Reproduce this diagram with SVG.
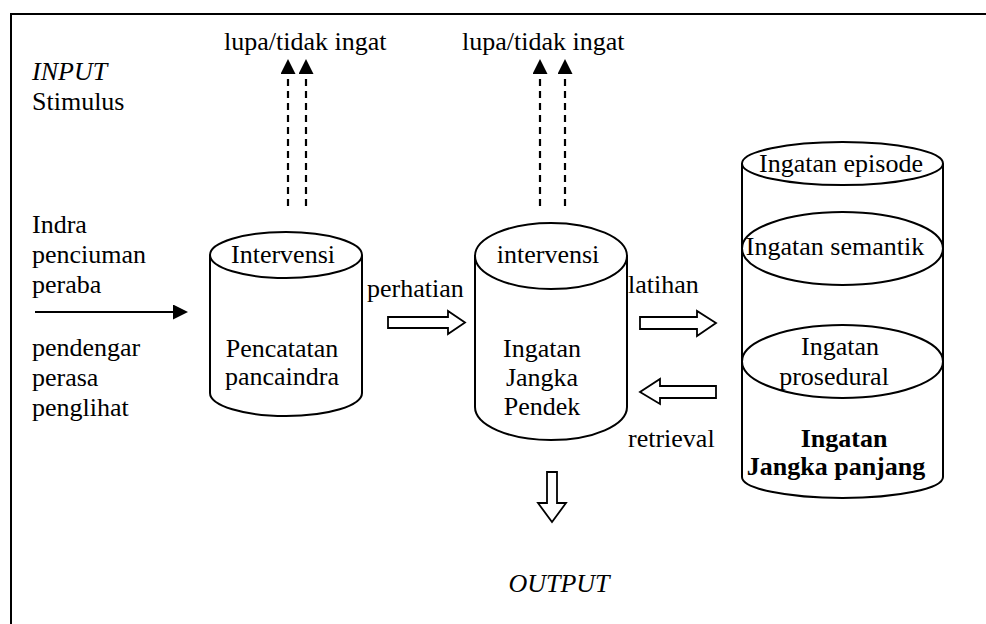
<svg xmlns="http://www.w3.org/2000/svg" width="986" height="624" viewBox="0 0 986 624">
<defs>
<style>
text{font-family:"Liberation Serif","Times New Roman",serif;font-size:26px;fill:#000}
.c{text-anchor:middle}
.i{font-style:italic}
.b{font-weight:bold}
.cyl{fill:#fff;stroke:#000;stroke-width:2}
.blk{fill:#fff;stroke:#000;stroke-width:1.8;stroke-linejoin:miter}
.dash{stroke:#000;stroke-width:2.2;stroke-dasharray:7 5;fill:none}
.line{stroke:#000;stroke-width:2;fill:none}
</style>
<marker id="ah" viewBox="0 0 10 10" refX="0" refY="5" markerWidth="15" markerHeight="15" markerUnits="userSpaceOnUse" orient="auto">
<path d="M0,0 L10,5 L0,10 Z" fill="#000"/>
</marker>
</defs>
<rect x="0" y="0" width="986" height="624" fill="#fff"/>
<rect x="11" y="14" width="1000" height="700" fill="none" stroke="#000" stroke-width="2"/>

<g id="input-label">
<text x="32" y="80" class="i">INPUT</text>
<text x="32" y="110">Stimulus</text>
</g>
<g id="senses">
<text x="32" y="233">Indra</text>
<text x="32" y="263">penciuman</text>
<text x="32" y="293">peraba</text>
<text x="32" y="356">pendengar</text>
<text x="32" y="386">perasa</text>
<text x="32" y="416">penglihat</text>
</g>

<g id="sensory-register">
<path class="cyl" d="M210,255 V393 A76,23 0 0 0 362,393 V255"/>
<ellipse class="cyl" cx="286" cy="255" rx="76" ry="23"/>
<text x="283" y="263" class="c">Intervensi</text>
<text x="282" y="357" class="c">Pencatatan</text>
<text x="282" y="385" class="c">pancaindra</text>
</g>

<g id="short-term-memory">
<path class="cyl" d="M475,256 V407 A76,33 0 0 0 627,407 V256"/>
<ellipse class="cyl" cx="551" cy="256" rx="76" ry="33"/>
<text x="548" y="263" class="c">intervensi</text>
<text x="542" y="357" class="c">Ingatan</text>
<text x="542" y="386" class="c">Jangka</text>
<text x="542" y="415" class="c">Pendek</text>
</g>

<g id="long-term-memory">
<path class="cyl" d="M742,163.5 V477 A100.5,21 0 0 0 943,477 V163.5"/>
<ellipse class="cyl" cx="842.5" cy="163.5" rx="100.5" ry="21.5"/>
<ellipse class="cyl" cx="842.5" cy="248.5" rx="100.5" ry="36.5"/>
<ellipse class="cyl" cx="842.5" cy="361.5" rx="100.5" ry="36.5"/>
<text x="841" y="172" class="c">Ingatan episode</text>
<text x="835" y="255" class="c">Ingatan semantik</text>
<text x="840" y="355" class="c">Ingatan</text>
<text x="834" y="385" class="c">prosedural</text>
<text x="844" y="447" class="c b">Ingatan</text>
<text x="836" y="475" class="c b">Jangka panjang</text>
</g>

<g id="forget-1">
<text x="224" y="50">lupa/tidak ingat</text>
</g>
<g id="forget-2">
<text x="462" y="50">lupa/tidak ingat</text>
</g>
<g id="output">
<text x="559" y="592" class="c i">OUTPUT</text>
</g>

<g id="connectors">
<line class="dash" x1="288" y1="206" x2="288" y2="74" marker-end="url(#ah)"/>
<line class="dash" x1="306" y1="206" x2="306" y2="74" marker-end="url(#ah)"/>
<line class="dash" x1="540" y1="206" x2="540" y2="74" marker-end="url(#ah)"/>
<line class="dash" x1="565" y1="206" x2="565" y2="74" marker-end="url(#ah)"/>
<line class="line" x1="35" y1="312" x2="173" y2="312" marker-end="url(#ah)"/>
<path class="blk" d="M388,317 H448 V311 L465,322.5 L448,334 V328 H388 Z"/>
<path class="blk" d="M640,317 H697 V311 L716,323 L697,336 V329 H640 Z"/>
<path class="blk" d="M716,386 H660 V379 L640,392 L660,404 V398 H716 Z"/>
<path class="blk" d="M547,472 V503 H538 L552,522 L566,503 H557 V472 Z"/>
<text x="367" y="297">perhatian</text>
<text x="628" y="293">latihan</text>
<text x="628" y="447">retrieval</text>
</g>
</svg>
